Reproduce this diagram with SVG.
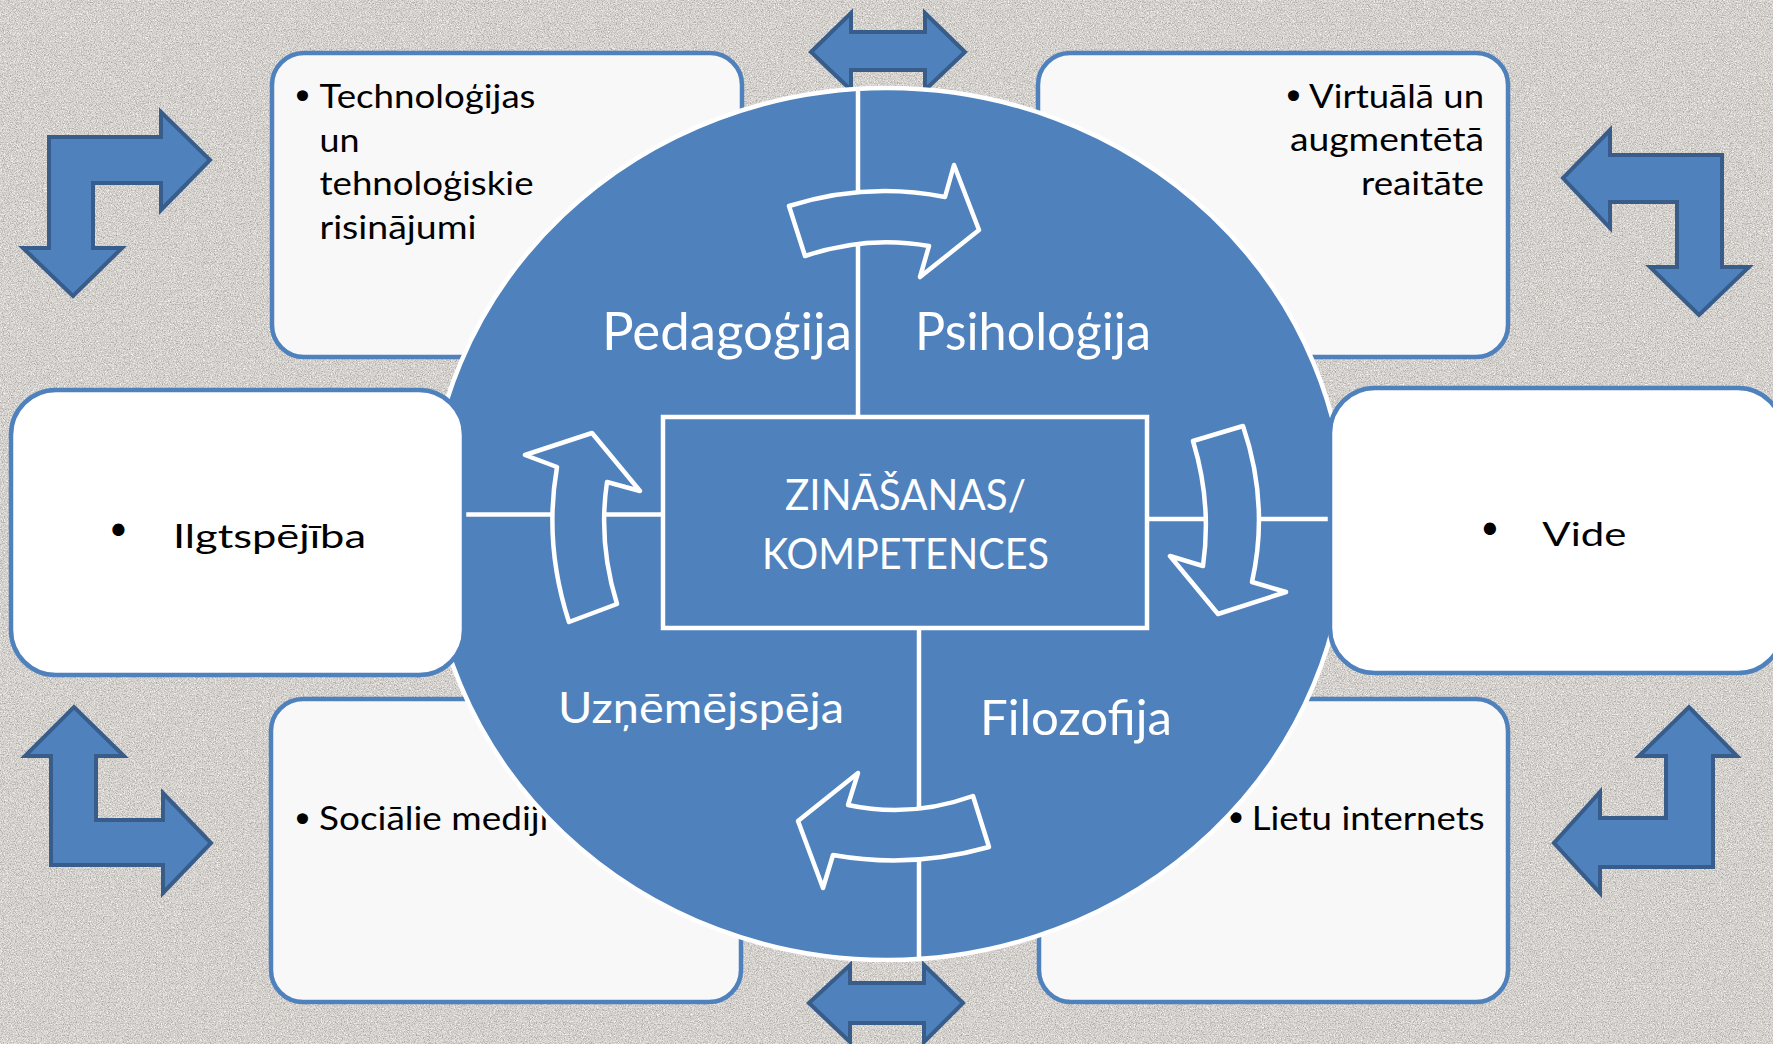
<svg xmlns="http://www.w3.org/2000/svg" width="1773" height="1044" viewBox="0 0 1773 1044">
<defs>
<filter id="noise" x="0" y="0" width="100%" height="100%">
<feTurbulence type="fractalNoise" baseFrequency="0.85" numOctaves="2" seed="7" result="t"/>
<feColorMatrix in="t" type="matrix" values="0 0 0 0 0.40  0 0 0 0 0.38  0 0 0 0 0.36  2.8 0 0 0 -1.25"/>
</filter>
<filter id="noise2" x="0" y="0" width="100%" height="100%">
<feTurbulence type="fractalNoise" baseFrequency="0.7" numOctaves="2" seed="19" result="t"/>
<feColorMatrix in="t" type="matrix" values="0 0 0 0 1  0 0 0 0 1  0 0 0 0 1  2.6 0 0 0 -1.25"/>
</filter>
<style>
.bent{fill:#4f81bd;stroke:#385d8a;stroke-width:4;stroke-linejoin:miter}
.cbox{fill:#f8f8f8;stroke:#4f81bd;stroke-width:4.5}
.sbox{fill:#ffffff;stroke:#4f81bd;stroke-width:4.5}
.circ{fill:#4f81bd;stroke:#ffffff;stroke-width:4.5}
.ln{stroke:#ffffff;stroke-width:4.5;fill:none}
.carr{fill:#4f81bd;stroke:#ffffff;stroke-width:4.5;stroke-linejoin:round}
.bt{font-family:Lato,'Open Sans','Liberation Sans',sans-serif;fill:#000000;font-size:33.5px}
.wt{font-family:Lato,'Open Sans','Liberation Sans',sans-serif;fill:#ffffff}
.bul{font-family:'DejaVu Sans',sans-serif;fill:#000000;text-anchor:middle}
</style>
</defs>
<g id="background">
<rect x="0" y="0" width="1773" height="1044" fill="#d9d5d1"/>
<rect x="0" y="0" width="1773" height="1044" filter="url(#noise2)"/>
<rect x="0" y="0" width="1773" height="1044" filter="url(#noise)"/>
</g>
<g id="double-arrow-top"><path class="bent" d="M811,52 L851,13 L851,32 L925,32 L925,13 L965,52 L925,90 L925,70 L851,70 L851,90 Z"/></g>
<g id="double-arrow-bottom"><path class="bent" d="M809,1003 L850,965 L850,983 L924,983 L924,965 L963,1003 L924,1042 L924,1023 L850,1023 L850,1042 Z"/></g>
<g id="box-technologijas">
<rect class="cbox" x="272" y="53" width="470" height="304" rx="32" ry="32"/>
<text class="bul" x="302.5" y="110" font-size="38">•</text>
<text class="bt" x="319.5" y="107.5" textLength="216" lengthAdjust="spacingAndGlyphs">Technoloģijas</text>
<text class="bt" x="319.5" y="151.5" textLength="40" lengthAdjust="spacingAndGlyphs">un</text>
<text class="bt" x="319.5" y="195" textLength="214" lengthAdjust="spacingAndGlyphs">tehnoloģiskie</text>
<text class="bt" x="319.5" y="238.5" textLength="157" lengthAdjust="spacingAndGlyphs">risinājumi</text>
</g>
<g id="box-virtuala">
<rect class="cbox" x="1038" y="53" width="470" height="304" rx="32" ry="32"/>
<text class="bul" x="1293.5" y="110" font-size="38">•</text>
<text class="bt" x="1309" y="107.5" textLength="175" lengthAdjust="spacingAndGlyphs">Virtuālā un</text>
<text class="bt" x="1290" y="151" textLength="194" lengthAdjust="spacingAndGlyphs">augmentētā</text>
<text class="bt" x="1361" y="194.5" textLength="123" lengthAdjust="spacingAndGlyphs">reaitāte</text>
</g>
<g id="box-socialie">
<rect class="cbox" x="271" y="699" width="470" height="303" rx="32" ry="32"/>
<text class="bul" x="302.5" y="832.5" font-size="38">•</text>
<text class="bt" x="319" y="830" textLength="229.5" lengthAdjust="spacingAndGlyphs">Sociālie mediji</text>
</g>
<g id="box-lietu">
<rect class="cbox" x="1039" y="699" width="469" height="303" rx="32" ry="32"/>
<text class="bul" x="1236" y="831.5" font-size="38">•</text>
<text class="bt" x="1251.7" y="830" textLength="233" lengthAdjust="spacingAndGlyphs">Lietu internets</text>
</g>
<g id="circle">
<ellipse class="circ" cx="887" cy="524" rx="459" ry="436"/>
</g>
<g id="connectors">
<line class="ln" x1="858" y1="89" x2="858" y2="417"/>
<line class="ln" x1="919" y1="628" x2="919" y2="960"/>
<line class="ln" x1="466" y1="514.5" x2="663" y2="514.5"/>
<line class="ln" x1="1147" y1="519" x2="1330" y2="519"/>
</g>
<g id="center-box">
<rect x="663" y="417" width="484" height="211" fill="none" stroke="#ffffff" stroke-width="4.5"/>
<text class="wt" x="785" y="510" font-size="42" textLength="241" lengthAdjust="spacingAndGlyphs">ZINĀŠANAS/</text>
<text class="wt" x="762" y="569" font-size="42" textLength="287" lengthAdjust="spacingAndGlyphs">KOMPETENCES</text>
</g>
<g id="curved-arrows">
<path class="carr" d="M789,206 Q867,181.5 945,197 L954,165 L979,230 L920,277 L929,246 Q867,235 805,256 Z"/>
<path class="carr" d="M1193,441 L1243,426 Q1269.5,504 1252,582 L1286,592 L1218,614 L1170,556 L1203,566 Q1212,503 1193,441 Z"/>
<path class="carr" d="M973,796 Q910.5,818.5 848,805 L858,773 L798,821 L823,888 L833,855 Q911,869 989,847 Z"/>
<path class="carr" d="M569,622 L617,604 Q598,543 607,482 L640,491 L592,433 L525,455 L557,467 Q543.6,544.5 569,622 Z"/>
</g>
<g id="labels">
<text class="wt" x="602" y="350" font-size="51.6" textLength="250" lengthAdjust="spacingAndGlyphs">Pedagoģija</text>
<text class="wt" x="915" y="350" font-size="51.6" textLength="236" lengthAdjust="spacingAndGlyphs">Psiholoģija</text>
<text class="wt" x="558" y="723" font-size="43" textLength="286" lengthAdjust="spacingAndGlyphs">Uzņēmējspēja</text>
<text class="wt" x="980" y="735" font-size="48" textLength="192" lengthAdjust="spacingAndGlyphs">Filozofija</text>
</g>
<g id="box-ilgtspejiba">
<rect class="sbox" x="11" y="390" width="453" height="285" rx="45" ry="45"/>
<text class="bul" x="118.3" y="546" font-size="42">•</text>
<text class="bt" x="173" y="548.3" font-size="44" textLength="193" lengthAdjust="spacingAndGlyphs">Ilgtspējība</text>
</g>
<g id="box-vide">
<rect class="sbox" x="1330" y="388" width="453" height="285" rx="45" ry="45"/>
<text class="bul" x="1490" y="544.5" font-size="42">•</text>
<text class="bt" x="1542.3" y="546" font-size="44" textLength="84" lengthAdjust="spacingAndGlyphs">Vide</text>
</g>
<g id="bent-arrow-top-left"><path class="bent" d="M49,137 L161,137 L161,112 L210,160 L161,210 L161,183 L93,183 L93,248 L122,248 L73,296 L23,248 L49,248 Z"/></g>
<g id="bent-arrow-top-right"><path class="bent" d="M1722,155 L1722,267 L1749,267 L1699,315 L1650,267 L1677,267 L1677,202 L1610,202 L1610,228 L1563,178 L1610,130 L1610,155 Z"/></g>
<g id="bent-arrow-bottom-left"><path class="bent" d="M51,865 L51,756 L25,756 L74,707 L124,756 L96,756 L96,820 L163,820 L163,793 L211,843 L163,893 L163,865 Z"/></g>
<g id="bent-arrow-bottom-right"><path class="bent" d="M1713,867 L1600,867 L1600,893 L1554,843 L1600,792 L1600,818 L1666,818 L1666,756 L1639,756 L1689,707 L1737,756 L1713,756 Z"/></g>
</svg>
